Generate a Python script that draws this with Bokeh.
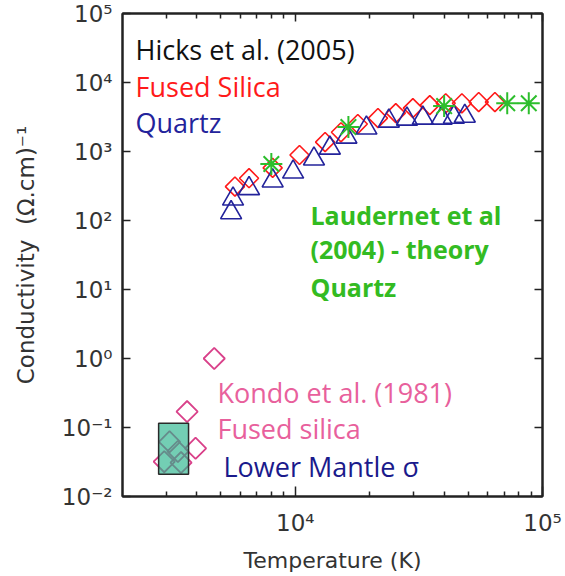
import math

from bokeh.embed import file_html
from bokeh.models import CustomJSTickFormatter, FixedTicker, Label, LogAxis, Range1d
from bokeh.plotting import figure
from bokeh.resources import INLINE

# Hicks et al. (2005): shocked fused silica and quartz
fused_T = [5700, 6500, 8100, 10400, 13200, 15300, 17900, 21600, 25500, 29900,
           35000, 40600, 47200, 55200, 64200]
fused_sigma = [310, 410, 580, 890, 1370, 1900, 2500, 3050, 3600, 4250,
               4700, 5000, 5000, 5200, 5200]
quartz_T = [5500, 5600, 6500, 8100, 9800, 11900, 13800, 16100, 19400, 23900,
            28300, 32800, 39100, 43800, 48500]
quartz_sigma = [130, 205, 290, 375, 505, 780, 1120, 1620, 2190, 2760,
                2950, 3050, 3050, 3150, 3250]

# Laudernet et al. (2004): theory for quartz
laud_T = [8000, 16400, 40000, 72000, 88000]
laud_sigma = [660, 2260, 4550, 5000, 5000]

# Kondo et al. (1981): fused silica
kondo_T = [4700, 3650, 3950, 3100, 3350, 2950, 3450]
kondo_sigma = [1.0, 0.17, 0.05, 0.062, 0.045, 0.032, 0.031]

# Lower mantle temperature / conductivity box
mantle_T = [2800, 3700]
mantle_sigma = [0.021, 0.115]

# Axis ticks and labels
x_ticks = [1e4, 1e5]
x_tick_labels = ["10⁴", "10⁵"]
x_minor_ticks = [3000, 4000, 5000, 6000, 7000, 8000, 9000,
                 20000, 30000, 40000, 50000, 60000, 70000, 80000, 90000]
y_ticks = [1e-2, 1e-1, 1e0, 1e1, 1e2, 1e3, 1e4, 1e5]
y_tick_labels = ["10⁻²", "10⁻¹", "10⁰", "10¹", "10²", "10³", "10⁴", "10⁵"]

TICK_FONT = "DejaVu Sans"
NOTE_FONT = "Open Sans"
AXIS_COLOR = "#222222"
LABEL_COLOR = "#333333"

label_code = """
for (let i = 0; i < tick_vals.length; i++) {
    if (Math.abs(Math.log10(tick_vals[i]) - Math.log10(tick)) < 1e-6) return tick_text[i];
}
return "";
"""

p = figure(width=565, height=576,
           x_axis_type="log", y_axis_type="log",
           x_range=Range1d(2000, 1e5), y_range=Range1d(1e-2, 1e5),
           output_backend="svg", toolbar_location=None,
           min_border_left=122, min_border_right=23,
           min_border_top=13, min_border_bottom=80)

p.xgrid.visible = False
p.ygrid.visible = False
p.background_fill_color = "white"
p.border_fill_color = "white"
p.outline_line_color = AXIS_COLOR
p.outline_line_width = 2

x_ticker = FixedTicker(ticks=x_ticks, minor_ticks=x_minor_ticks)
y_ticker = FixedTicker(ticks=y_ticks, minor_ticks=[])
x_fmt = CustomJSTickFormatter(args=dict(tick_vals=x_ticks, tick_text=x_tick_labels), code=label_code)
y_fmt = CustomJSTickFormatter(args=dict(tick_vals=y_ticks, tick_text=y_tick_labels), code=label_code)
blank_fmt = CustomJSTickFormatter(code='return "";')


def style_axis(ax, major_in, labelled):
    ax.axis_line_color = AXIS_COLOR
    ax.axis_line_width = 2
    ax.major_tick_line_color = AXIS_COLOR
    ax.minor_tick_line_color = AXIS_COLOR
    ax.major_tick_line_width = 1.5
    ax.minor_tick_line_width = 1.5
    ax.major_tick_in = major_in
    ax.major_tick_out = 0
    ax.minor_tick_in = 5
    ax.minor_tick_out = 0
    if labelled:
        ax.major_label_text_font = TICK_FONT
        ax.major_label_text_font_size = "23px"
        ax.major_label_text_color = LABEL_COLOR
    else:
        ax.formatter = blank_fmt
        ax.major_label_text_color = None
        ax.major_label_text_font_size = "1px"
        ax.major_label_standoff = 0


xa = p.xaxis[0]
xa.ticker = x_ticker
xa.formatter = x_fmt
style_axis(xa, 10, True)
xa.major_label_standoff = 13
xa.axis_label = "Temperature (K)"
xa.axis_label_text_font = TICK_FONT
xa.axis_label_text_font_size = "22px"
xa.axis_label_text_font_style = "normal"
xa.axis_label_text_color = LABEL_COLOR
xa.axis_label_standoff = 9

ya = p.yaxis[0]
ya.ticker = y_ticker
ya.formatter = y_fmt
style_axis(ya, 8, True)
ya.major_label_standoff = 10
ya.axis_label = "Conductivity \u00a0(Ω.cm)⁻¹"
ya.axis_label_text_font = TICK_FONT
ya.axis_label_text_font_size = "23px"
ya.axis_label_text_font_style = "normal"
ya.axis_label_text_color = LABEL_COLOR
ya.axis_label_standoff = 20

top_axis = LogAxis(ticker=x_ticker)
style_axis(top_axis, 8, False)
p.add_layout(top_axis, "above")

right_axis = LogAxis(ticker=y_ticker)
style_axis(right_axis, 8, False)
p.add_layout(right_axis, "right")

# Kondo diamonds first, then the translucent mantle box over them
p.scatter(kondo_T, kondo_sigma, marker="square", angle=math.pi / 4, size=15,
          fill_color=None, line_color="#d9418a", line_width=1.8)
p.quad(left=[mantle_T[0]], right=[mantle_T[1]],
       bottom=[mantle_sigma[0]], top=[mantle_sigma[1]],
       fill_color="#28b48c", fill_alpha=0.65,
       line_color="#2a2a2a", line_width=1.5)

p.scatter(fused_T, fused_sigma, marker="square", angle=math.pi / 4, size=13.5,
          fill_color=None, line_color="#ff1a1a", line_width=1.6)
p.scatter(quartz_T, quartz_sigma, marker="triangle", size=21,
          fill_color=None, line_color="#23239b", line_width=1.6)
p.scatter(laud_T, laud_sigma, marker="asterisk", size=22,
          line_color="#2dbe2d", line_width=2)

# In-plot annotations (text baseline positions in data coordinates)
notes = [
    ("Hicks et al. (2005)", 2258, 30500, "#111111", "normal", "27px"),
    ("Fused Silica", 2258, 8750, "#ff1a1a", "normal", "27px"),
    ("Quartz", 2258, 2630, "#23239b", "normal", "27px"),
    ("Laudernet et al", 11520, 122, "#33bb22", "bold", "25px"),
    ("(2004) - theory", 11520, 38.0, "#33bb22", "bold", "25px"),
    ("Quartz", 11520, 10.7, "#33bb22", "bold", "25px"),
    ("Kondo et al. (1981)", 4845, 0.322, "#e8609c", "normal", "27px"),
    ("Fused silica", 4845, 0.0967, "#e8609c", "normal", "27px"),
    ("Lower Mantle σ", 5124, 0.0272, "#1a1a8c", "normal", "27px"),
]
for text, x, y, color, style, size in notes:
    p.add_layout(Label(x=x, y=y, text=text, text_font=NOTE_FONT,
                       text_font_size=size, text_font_style=style,
                       text_color=color, text_align="left",
                       text_baseline="alphabetic"))

open("out.html", "w").write(file_html(p, INLINE))
